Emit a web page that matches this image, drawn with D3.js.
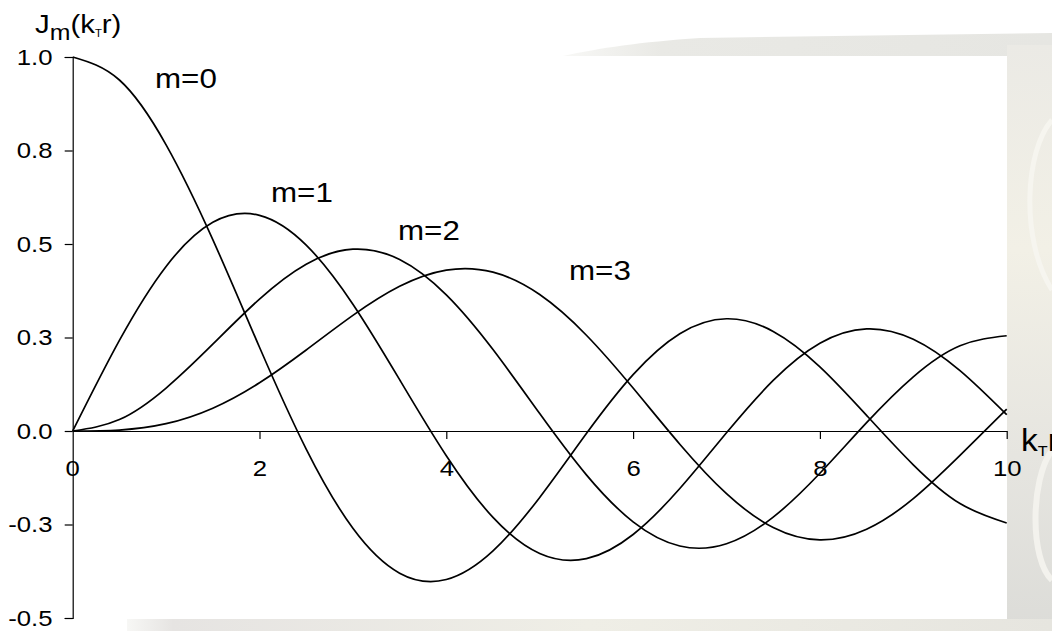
<html>
<head>
<meta charset="utf-8">
<style>
  body { margin:0; background:#fff; }
  text { font-family: "Liberation Sans", Arial, sans-serif; fill:#000; }
</style>
</head>
<body>
<script src="https://cdn.jsdelivr.net/npm/d3@7"></script>
<script>
// argument k_T r, step 0.5
var xs = [0,0.5,1,1.5,2,2.5,3,3.5,4,4.5,5,5.5,6,6.5,7,7.5,8,8.5,9,9.5,10];
var m0 = [1,0.9385,0.7652,0.5118,0.2239,-0.0484,-0.2601,-0.3801,-0.3971,-0.3205,-0.1776,-0.0068,0.1506,0.2601,0.3001,0.2663,0.1717,0.0419,-0.0903,-0.1939,-0.2459];
var m1 = [0,0.2423,0.4401,0.5579,0.5767,0.4971,0.3391,0.1374,-0.0660,-0.2311,-0.3276,-0.3414,-0.2767,-0.1538,-0.0047,0.1352,0.2346,0.2731,0.2453,0.1613,0.0435];
var m2 = [0,0.0306,0.1149,0.2321,0.3528,0.4461,0.4861,0.4586,0.3641,0.2178,0.0466,-0.1173,-0.2429,-0.3074,-0.3014,-0.2303,-0.1130,0.0223,0.1448,0.2279,0.2546];
var m3 = [0,0.0026,0.0196,0.0610,0.1289,0.2166,0.3091,0.3868,0.4302,0.4247,0.3648,0.2561,0.1148,-0.0353,-0.1676,-0.2581,-0.2911,-0.2626,-0.1809,-0.0653,0.0584];
var seriesNames = ["m=0","m=1","m=2","m=3"];
var xTicks = [2,4,6,8,10];
var xTickLabels = ["2","4","6","8","10"];
var yTicks = [-0.5,-0.25,0,0.25,0.5,0.75,1];
var yTickLabels = ["-0.5","-0.3","0.0","0.3","0.5","0.8","1.0"];

var width = 1052, height = 631;
var svg = d3.select("body").append("svg")
    .attr("width", width)
    .attr("height", height);

// faint photo behind the chart
var defs = svg.append("defs");
var gr = defs.append("linearGradient").attr("id","side").attr("x1",0).attr("y1",0).attr("x2",0).attr("y2",1);
gr.append("stop").attr("offset","0%").attr("stop-color","#ebeae5");
gr.append("stop").attr("offset","35%").attr("stop-color","#f2f0e6");
gr.append("stop").attr("offset","70%").attr("stop-color","#e6e5e0");
gr.append("stop").attr("offset","100%").attr("stop-color","#dcdcd8");
var gb = defs.append("linearGradient").attr("id","bottom").attr("x1",0).attr("y1",0).attr("x2",1).attr("y2",0);
gb.append("stop").attr("offset","0%").attr("stop-color","#f7f7f5");
gb.append("stop").attr("offset","5%").attr("stop-color","#e6e4e2");
gb.append("stop").attr("offset","50%").attr("stop-color","#efeee6");
gb.append("stop").attr("offset","100%").attr("stop-color","#e6e5df");
var gt = defs.append("linearGradient").attr("id","top").attr("x1",0).attr("y1",0).attr("x2",1).attr("y2",0);
gt.append("stop").attr("offset","0%").attr("stop-color","#f8f8f6");
gt.append("stop").attr("offset","20%").attr("stop-color","#e9e9e5");
gt.append("stop").attr("offset","100%").attr("stop-color","#e6e6e2");

svg.append("path")
    .attr("d","M563,56 C600,48 640,42 700,38 L1052,33 L1052,56 Z")
    .attr("fill","url(#top)");
svg.append("rect").attr("x",1007).attr("y",45).attr("width",45).attr("height",586).attr("fill","url(#side)");
svg.append("path").attr("d","M1052,120 C1025,150 1020,240 1052,290")
    .attr("fill","none").attr("stroke","#f6f5ef").attr("stroke-width",5);
svg.append("path").attr("d","M1052,450 C1030,480 1030,560 1052,580")
    .attr("fill","none").attr("stroke","#f3f2ed").attr("stroke-width",6);
svg.append("rect").attr("x",127).attr("y",619).attr("width",925).attr("height",12).attr("fill","url(#bottom)");

var x = d3.scaleLinear().domain([0,10]).range([72.7,1006.7]);
var y = d3.scaleLinear().domain([-0.5,1]).range([618,57]);
var sx = 1.12;

// y axis
var ya = svg.append("g")
    .attr("transform","translate(" + x(0) + ",0)")
    .call(d3.axisLeft(y).tickValues(yTicks).tickSize(8).tickPadding(10)
          .tickFormat((d,i)=>yTickLabels[i]));
ya.select(".domain").attr("stroke","#000").attr("stroke-width",1.2);
ya.selectAll(".tick line").attr("stroke","#000").attr("stroke-width",1.2);
ya.selectAll(".tick text").attr("font-size",23).attr("font-family",null)
    .attr("transform","scale(" + sx + ",1)");

// x axis through zero
var xa = svg.append("g")
    .attr("transform","translate(0," + y(0) + ")")
    .call(d3.axisBottom(x).tickValues(xTicks).tickSize(8).tickPadding(21)
          .tickSizeOuter(0).tickFormat((d,i)=>xTickLabels[i]));
xa.select(".domain").attr("stroke","#000").attr("stroke-width",1.2);
xa.selectAll(".tick line").attr("stroke","#000").attr("stroke-width",1.2);
xa.selectAll(".tick text").attr("font-size",23).attr("font-family",null)
    .attr("transform","scale(" + sx + ",1)");
xa.append("text").attr("y",29).attr("dy","0.71em")
    .attr("text-anchor","middle").attr("font-size",23)
    .attr("transform","translate(" + x(0) + ",0) scale(" + sx + ",1)")
    .text("0");

// curves
var line = d3.line()
    .x((d,i)=>x(xs[i]))
    .y(d=>y(d))
    .curve(d3.curveNatural);
svg.selectAll("path.bessel")
    .data([m0,m1,m2,m3])
    .join("path")
    .attr("class","bessel")
    .attr("fill","none")
    .attr("stroke","#000")
    .attr("stroke-width",1.7)
    .attr("d",line);

// series labels
var labelPos = [[155,88],[271,202],[398,240],[569,280]];
svg.selectAll("text.lab")
    .data(seriesNames)
    .join("text")
    .attr("class","lab")
    .attr("font-size",28)
    .attr("transform",(d,i)=>"translate(" + labelPos[i][0] + "," + labelPos[i][1] + ") scale(" + sx + ",1)")
    .text(d=>d);

// axis titles
var t1 = svg.append("text").attr("font-size",26)
    .attr("transform","translate(35,33) scale(1.13,1)");
t1.append("tspan").text("J");
t1.append("tspan").attr("dy",7).attr("font-size",22).text("m");
t1.append("tspan").attr("dy",-7).text("(k");
t1.append("tspan").attr("dy",4).attr("font-size",10).text("T");
t1.append("tspan").attr("dy",-4).text("r)");

var t2 = svg.append("text").attr("font-size",31)
    .attr("transform","translate(1021,451) scale(1.08,1)");
t2.append("tspan").text("k");
t2.append("tspan").attr("dy",5).attr("font-size",15).text("T");
t2.append("tspan").attr("dy",-5).text("r");
</script>
</body>
</html>
